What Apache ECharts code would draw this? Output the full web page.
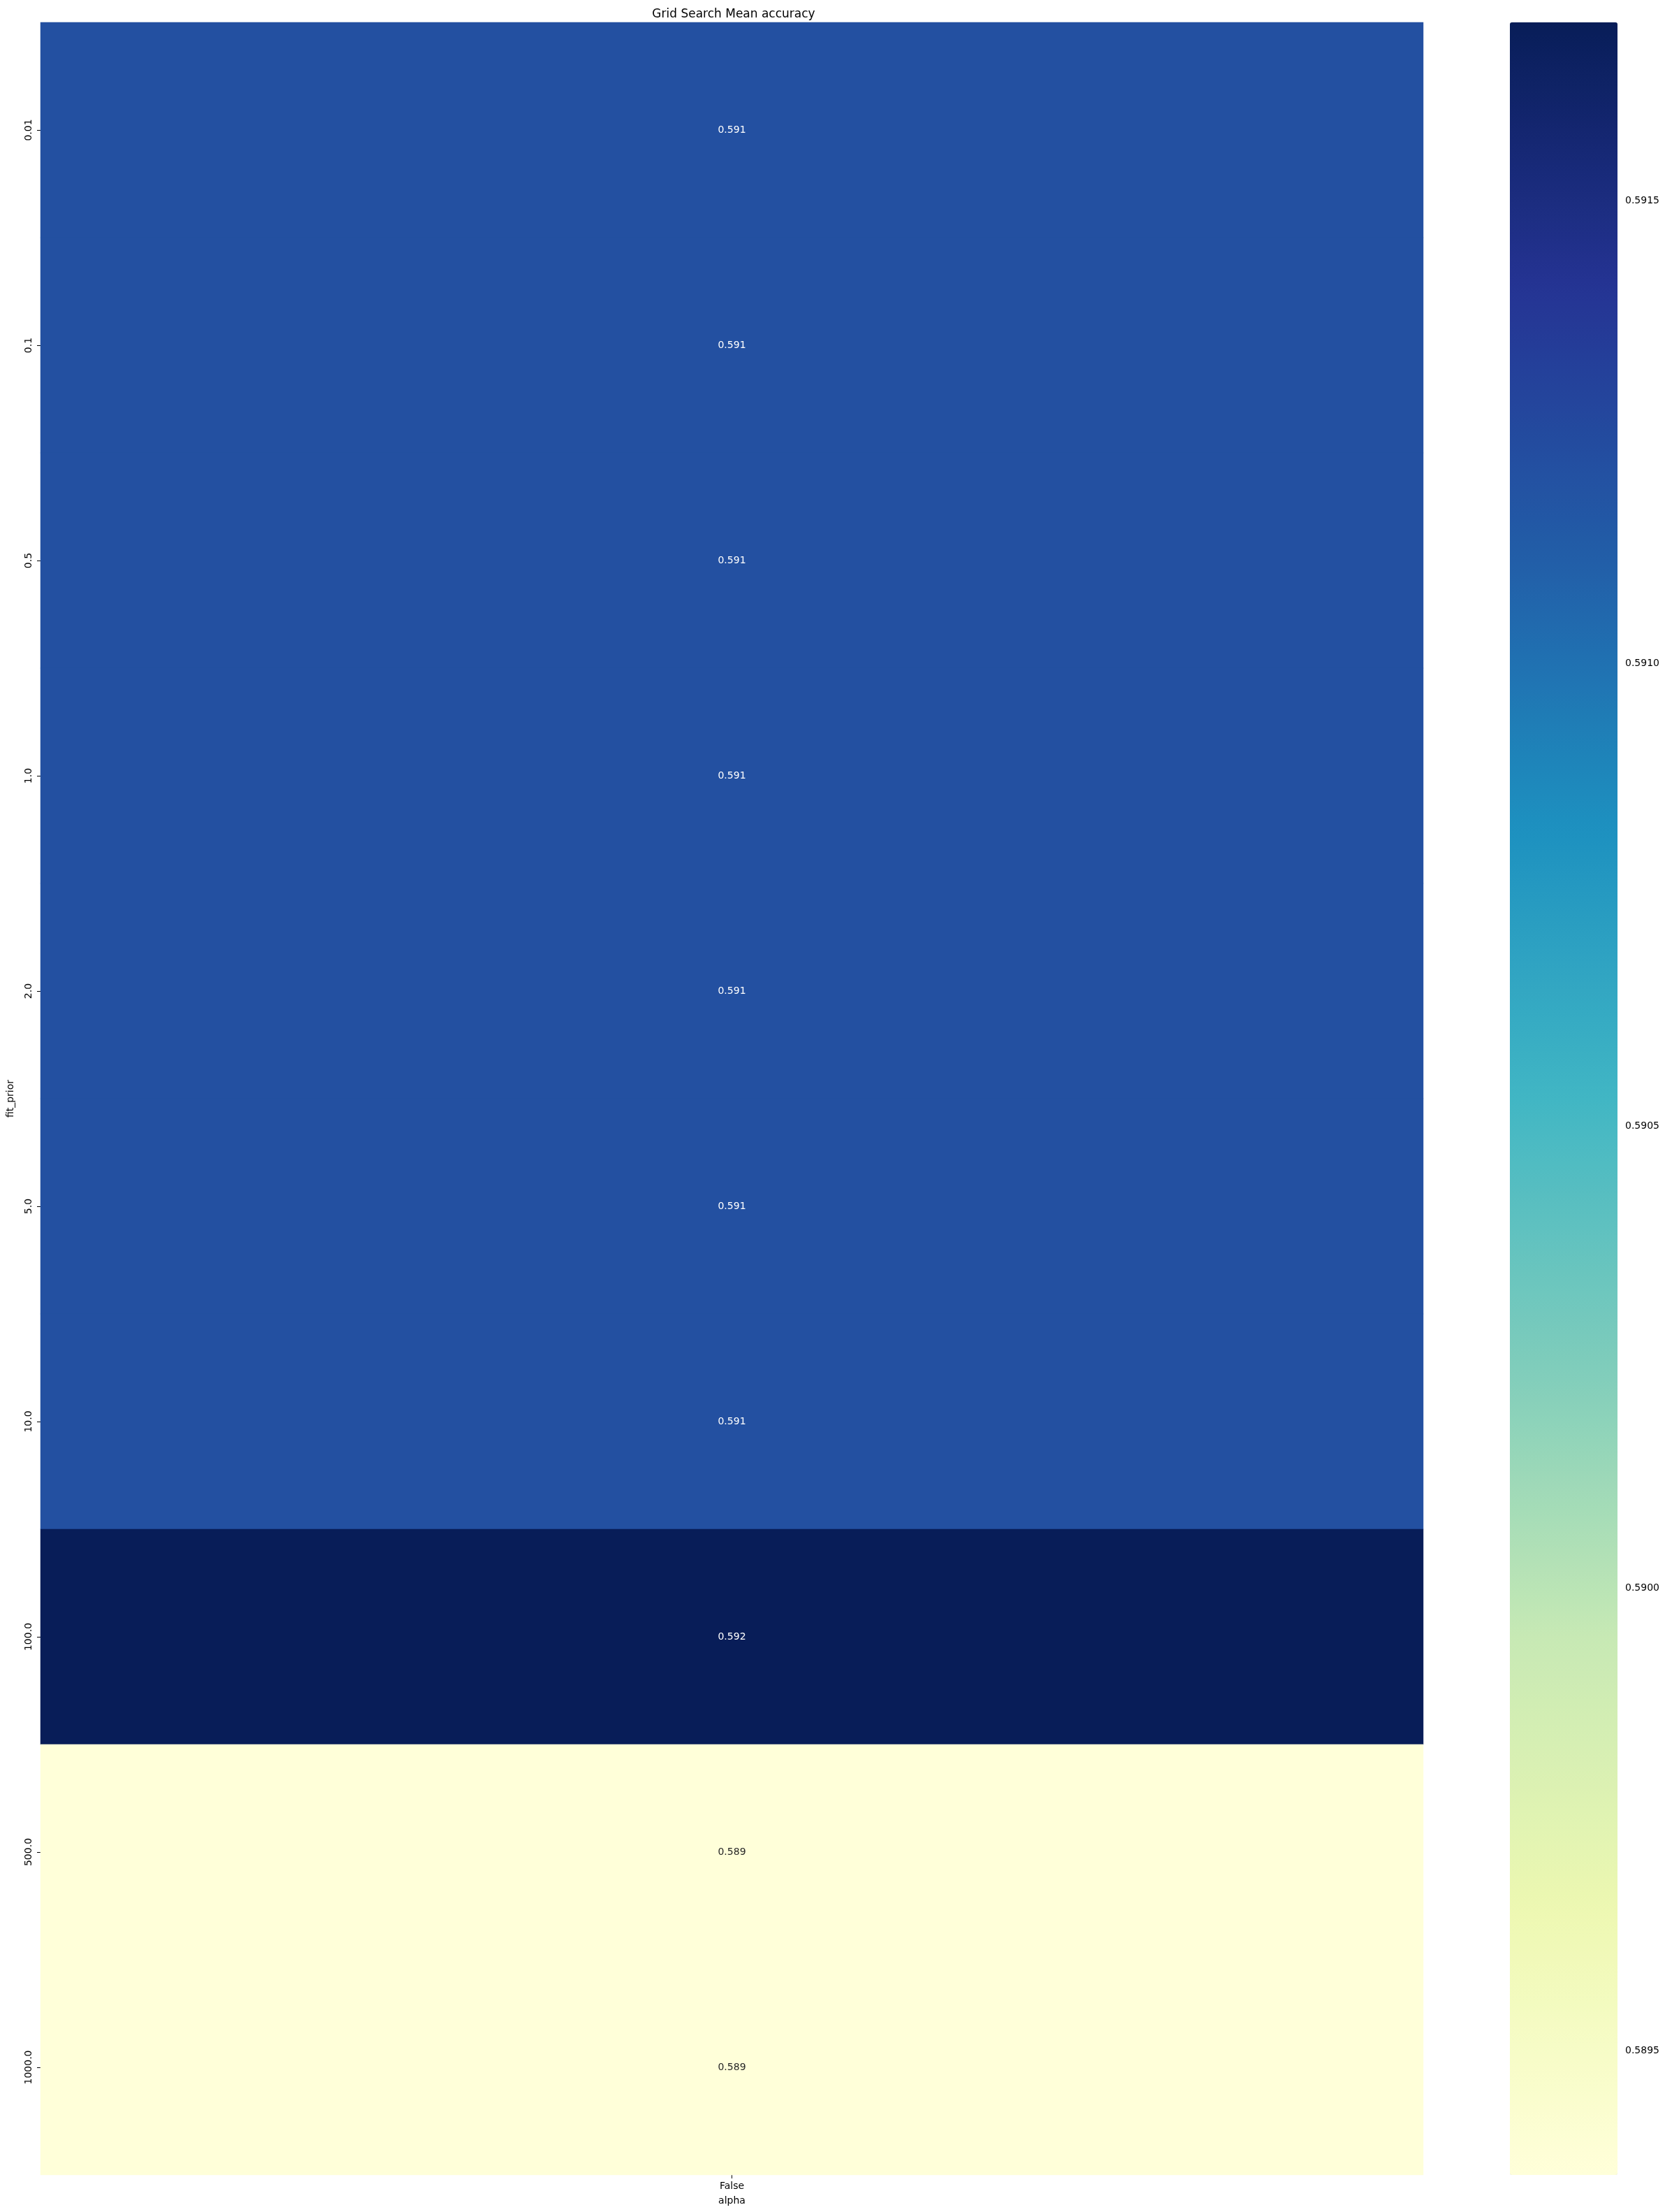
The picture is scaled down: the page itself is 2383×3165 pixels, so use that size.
<!DOCTYPE html>
<html>
<head>
<meta charset="utf-8">
<title>Grid Search Mean accuracy</title>
<script src="https://cdn.jsdelivr.net/npm/echarts@6/dist/echarts.min.js"></script>
<style>
  html, body { margin: 0; padding: 0; background: #fff; }
  #chart { width: 2383px; height: 3165px; }
</style>
</head>
<body>
<div id="chart"></div>
<script>
// x 轴：alpha，y 轴：fit_prior
const alphaLabels = ['False'];
const fitPriorLabels = ['0.01', '0.1', '0.5', '1.0', '2.0', '5.0', '10.0', '100.0', '500.0', '1000.0'];
// 每一行的平均准确率（只有一列）
const meanAccuracy = [0.591208, 0.591208, 0.591208, 0.591208, 0.591208, 0.591208, 0.591208, 0.591693, 0.589366, 0.589366];
// colorbar 刻度
const colorbarTicks = [0.5895, 0.5900, 0.5905, 0.5910, 0.5915];

// YlGnBu
const ylGnBu = ['#ffffd9', '#edf8b1', '#c7e9b4', '#7fcdbb', '#41b6c4', '#1d91c0', '#225ea8', '#253494', '#081d58'];

const vmin = Math.min(...meanAccuracy);
const vmax = Math.max(...meanAccuracy);

const cells = meanAccuracy.map(function (v, i) {
  const light = (v - vmin) / (vmax - vmin) < 0.45;
  return {
    value: [0, i, v],
    label: { color: light ? '#262626' : '#ffffff' }
  };
});

const font = 'DejaVu Sans';

const myChart = echarts.init(document.getElementById('chart'), null, { renderer: 'canvas' });

const option = {
  backgroundColor: '#ffffff',
  animation: false,
  title: {
    text: 'Grid Search Mean accuracy',
    left: 1045,
    top: 7,
    textAlign: 'center',
    textStyle: { fontFamily: font, fontSize: 17, fontWeight: 'normal', color: '#000' }
  },
  grid: [
    { left: 53, top: 32, width: 1984, height: 3080 },
    // colorbar 的刻度用一个单独的 grid
    { left: 2161, top: 32, width: 154, height: 3080 }
  ],
  xAxis: [
    {
      type: 'category',
      gridIndex: 0,
      data: alphaLabels,
      name: 'alpha',
      nameLocation: 'middle',
      nameGap: 30,
      nameTextStyle: { fontFamily: font, fontSize: 14, color: '#000' },
      axisLine: { show: false },
      axisTick: { show: true, alignWithLabel: true, length: 5, lineStyle: { color: '#000', width: 1 } },
      axisLabel: { fontFamily: font, fontSize: 14, color: '#000', margin: 9 },
      splitLine: { show: false }
    },
    { type: 'value', gridIndex: 1, show: false, min: 0, max: 1 }
  ],
  yAxis: [
    {
      type: 'category',
      gridIndex: 0,
      data: fitPriorLabels,
      inverse: true,
      name: 'fit_prior',
      nameLocation: 'middle',
      nameRotate: 90,
      nameGap: 36,
      nameTextStyle: { fontFamily: font, fontSize: 14, color: '#000' },
      axisLine: { show: false },
      axisTick: { show: true, alignWithLabel: true, length: 5, lineStyle: { color: '#000', width: 1 } },
      axisLabel: { fontFamily: font, fontSize: 14, color: '#000', rotate: 90, margin: 10 },
      splitLine: { show: false }
    },
    {
      type: 'value',
      gridIndex: 1,
      position: 'right',
      min: vmin,
      max: vmax,
      axisLine: { show: false },
      splitLine: { show: false },
      axisTick: {
        show: true,
        length: 5,
        customValues: colorbarTicks,
        lineStyle: { color: '#000', width: 1 }
      },
      axisLabel: {
        fontFamily: font,
        fontSize: 14,
        color: '#000',
        margin: 11,
        customValues: colorbarTicks,
        formatter: function (v) { return v.toFixed(4); }
      }
    }
  ],
  visualMap: {
    type: 'continuous',
    seriesIndex: 0,
    min: vmin,
    max: vmax,
    calculable: false,
    orient: 'vertical',
    left: 2161,
    top: 32,
    padding: 0,
    itemWidth: 154,
    itemHeight: 3080,
    text: null,
    hoverLink: false,
    inRange: { color: ylGnBu }
  },
  series: [
    {
      type: 'heatmap',
      xAxisIndex: 0,
      yAxisIndex: 0,
      data: cells,
      label: {
        show: true,
        fontFamily: font,
        fontSize: 14,
        formatter: function (p) { return p.value[2].toFixed(3); }
      },
      emphasis: { disabled: true }
    }
  ]
};

myChart.setOption(option);
</script>
</body>
</html>
